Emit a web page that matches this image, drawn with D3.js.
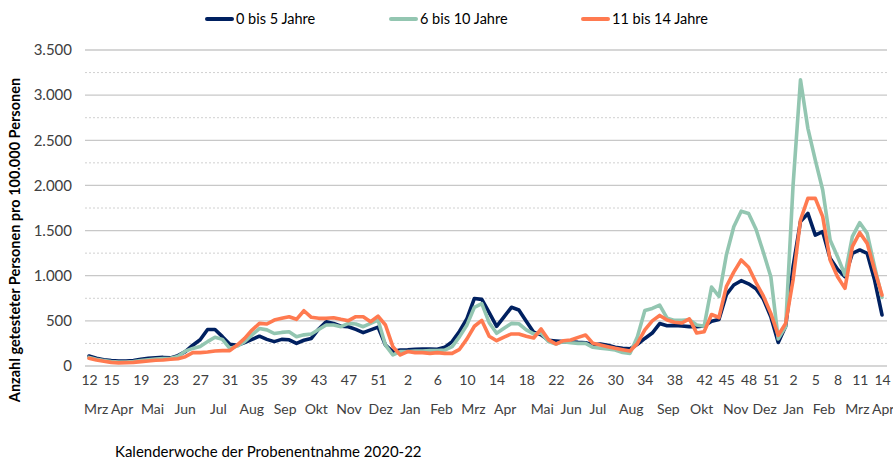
<!DOCTYPE html>
<html lang="de">
<head>
<meta charset="utf-8">
<script src="https://cdn.jsdelivr.net/npm/d3@7"></script>
<style>
  html, body { margin: 0; padding: 0; background: #ffffff; }
  svg { display: block; font-family: Lato, "Open Sans", sans-serif; }
</style>
</head>
<body>
<svg id="chart" width="893" height="461"></svg>
<script>
// Kalenderwochen 2020-W12 bis 2022-W14
const weekNumbers = [
  12,13,14,15,16,17,18,19,20,21,22,23,24,25,26,27,28,29,30,31,32,33,34,35,36,37,38,39,40,41,42,43,44,45,46,47,48,49,50,51,52,53,
  1,2,3,4,5,6,7,8,9,10,11,12,13,14,15,16,17,18,19,20,21,22,23,24,25,26,27,28,29,30,31,32,33,34,35,36,37,38,39,40,41,42,43,44,45,46,47,48,49,50,51,52,
  1,2,3,4,5,6,7,8,9,10,11,12,13,14
];

// Beschriftete Kalenderwochen (Index in weekNumbers)
const weekTickIndex = [0,3,7,11,15,19,23,27,31,35,39,43,47,51,55,59,63,67,71,75,79,83,86,89,92,95,98,101,104,107];

// Monatsnamen und ihre Lage auf der Wochenachse (Index)
const monthLabels = ["Mrz","Apr","Mai","Jun","Jul","Aug","Sep","Okt","Nov","Dez","Jan","Feb",
                     "Mrz","Apr","Mai","Jun","Jul","Aug","Sep","Okt","Nov","Dez","Jan","Feb","Mrz","Apr"];
const monthAt = [0.9,4.4,8.5,12.9,17.4,21.9,26.4,30.6,35.0,39.3,43.3,47.5,
                 51.8,56.1,61.1,65.0,68.6,73.1,78.1,82.6,87.2,91.1,95.0,99.1,103.6,107.1];

const seriesNames = ["0 bis 5 Jahre", "6 bis 10 Jahre", "11 bis 14 Jahre"];

const age0to5 = [
  110,85,70,60,55,55,60,75,85,92,95,90,115,160,230,290,405,405,325,240,
  230,260,295,330,295,270,295,290,250,285,305,410,490,472,440,435,405,370,400,430,
  232,160,177,180,185,188,188,185,207,270,385,525,748,738,590,440,545,650,620,495,
  375,345,285,277,270,268,262,258,235,243,229,207,195,190,240,305,365,470,445,450,
  443,436,436,443,495,515,790,897,945,910,855,740,546,260,440,1100,1600,1690,1450,1488,
  1192,1071,989,1248,1285,1248,952,565
];

const age6to10 = [
  95,75,60,50,45,45,50,60,70,78,82,85,105,165,195,215,270,318,295,195,
  220,270,345,415,400,360,372,380,325,345,355,405,454,454,435,472,465,435,472,509,
  232,122,160,160,166,166,170,170,177,214,325,455,650,690,480,362,417,472,468,400,
  355,365,270,243,270,258,251,251,207,196,188,177,150,140,325,615,638,675,530,505,
  505,512,455,440,875,770,1230,1543,1715,1690,1515,1257,989,300,436,2000,3170,2632,2281,1949,
  1395,1211,1008,1432,1587,1469,1100,760
];

const age11to14 = [
  85,66,52,40,35,37,40,48,55,63,66,74,81,103,148,148,155,166,170,170,
  232,306,398,472,465,509,528,546,517,612,539,528,528,535,517,502,546,546,490,553,
  454,214,122,160,148,148,140,148,140,140,185,300,440,505,330,280,320,355,355,330,
  310,410,290,243,280,288,317,343,251,232,214,196,180,165,250,400,500,560,509,485,
  476,522,365,380,570,537,880,1040,1174,1093,925,773,583,340,472,952,1617,1857,1857,1654,
  1174,989,860,1322,1477,1358,1063,786
];

const yTicks = [0,500,1000,1500,2000,2500,3000,3500];
const yMinorTicks = [250,750,1250,1750,2250,2750,3250];

const yTitle = "Anzahl getesteter Personen pro 100.000 Personen";
const xTitle = "Kalenderwoche der Probenentnahme 2020-22";

// ---------------------------------------------------------------
const colors = ["#002060", "#93c6b1", "#ff7a50"];
const seriesValues = [age0to5, age6to10, age11to14];

const svg = d3.select("#chart");
const plot = { left: 89, right: 882, top: 50, bottom: 366 };
const gridX = [85, 887];

const x = d3.scaleLinear().domain([0, weekNumbers.length - 1]).range([plot.left, plot.right]);
const y = d3.scaleLinear().domain([0, 3500]).range([plot.bottom, plot.top]);

const de = d3.formatLocale({ decimal: ",", thousands: ".", grouping: [3], currency: ["", " €"] });
const fmt = de.format(",d");

// Gitternetz: gepunktete Zwischenlinien, durchgezogene Hauptlinien
svg.append("g").selectAll("line").data(yMinorTicks).join("line")
  .attr("x1", gridX[0]).attr("x2", gridX[1])
  .attr("y1", d => y(d)).attr("y2", d => y(d))
  .attr("stroke", "#d0d0d0").attr("stroke-width", 1).attr("stroke-dasharray", "2,2");

svg.append("g").selectAll("line").data(yTicks).join("line")
  .attr("x1", gridX[0]).attr("x2", gridX[1])
  .attr("y1", d => y(d)).attr("y2", d => y(d))
  .attr("stroke", "#c8c8c8").attr("stroke-width", 1.3);

// Y-Achse
const yAxis = svg.append("g")
  .attr("transform", "translate(72,0)")
  .call(d3.axisLeft(y).tickValues(yTicks).tickFormat(fmt).tickSize(0).tickPadding(0));
yAxis.select(".domain").remove();
yAxis.selectAll("text").attr("font-size", 15).attr("fill", "#404040")
  .attr("font-family", "Lato, sans-serif");

// X-Achse: Kalenderwochen
const xAxis = svg.append("g")
  .attr("transform", `translate(0,${plot.bottom + 9})`)
  .call(d3.axisBottom(x).tickValues(weekTickIndex).tickFormat(i => weekNumbers[i]).tickSize(0).tickPadding(0));
xAxis.select(".domain").remove();
xAxis.selectAll("text").attr("font-size", 14).attr("fill", "#404040")
  .attr("font-family", "Lato, sans-serif");

// X-Achse: Monate
const mAxis = svg.append("g")
  .attr("transform", `translate(0,${plot.bottom + 38})`)
  .call(d3.axisBottom(x).tickValues(monthAt).tickFormat((d, i) => monthLabels[i]).tickSize(0).tickPadding(0));
mAxis.select(".domain").remove();
mAxis.selectAll("text").attr("font-size", 14).attr("fill", "#404040")
  .attr("font-family", "Lato, sans-serif");

// Linien
const line = d3.line().x((d, i) => x(i)).y(d => y(d));
svg.append("g").selectAll("path").data(seriesValues).join("path")
  .attr("d", d => line(d))
  .attr("fill", "none")
  .attr("stroke", (d, i) => colors[i])
  .attr("stroke-width", 3.6)
  .attr("stroke-linejoin", "round")
  .attr("stroke-linecap", "round");

// Achsentitel
svg.append("text")
  .attr("transform", "translate(20,240) rotate(-90)")
  .attr("text-anchor", "middle")
  .attr("font-size", 14.5).attr("font-weight", "bold").attr("fill", "#000")
  .attr("font-family", "Lato, sans-serif")
  .text(yTitle);

svg.append("text")
  .attr("x", 115).attr("y", 457)
  .attr("font-size", 15).attr("fill", "#000")
  .attr("font-family", "Lato, sans-serif")
  .text(xTitle);

// Legende
const legendX = [207, 391, 583];
const legend = svg.append("g").selectAll("g").data(seriesNames).join("g")
  .attr("transform", (d, i) => `translate(${legendX[i]},19)`);
legend.append("line")
  .attr("x1", 0).attr("x2", 25).attr("y1", 0).attr("y2", 0)
  .attr("stroke", (d, i) => colors[i]).attr("stroke-width", 4).attr("stroke-linecap", "round");
legend.append("text")
  .attr("x", 29).attr("y", 5)
  .attr("font-size", 14.5).attr("fill", "#000")
  .attr("font-family", "Lato, sans-serif")
  .text(d => d);
</script>
</body>
</html>
